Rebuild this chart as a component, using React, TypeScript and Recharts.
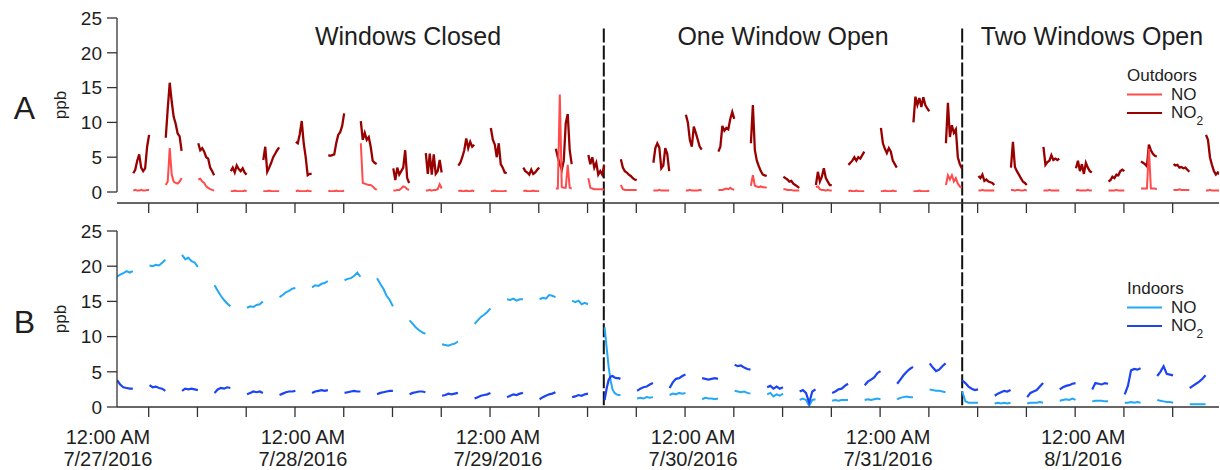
import React from 'react';
import { LineChart, Line, XAxis, YAxis, ReferenceLine, Legend } from 'recharts';

// Time is in hours after 12:00 AM 7/27/2016.
const T_MIN = 2.1;
const T_MAX = 137.7;
const WINDOW_HOURS = 1.95;

const hourTicks = [6, 12, 18, 24, 30, 36, 42, 48, 54, 60, 66, 72, 78, 84, 90, 96, 102, 108, 114, 120, 126, 132];
const dayTicks = [0, 24, 48, 72, 96, 120];
const dayLabels = ['7/27/2016', '7/28/2016', '7/29/2016', '7/30/2016', '7/31/2016', '8/1/2016'];
const ppbTicks = [0, 5, 10, 15, 20, 25];
const phaseBreaks = [62.0, 106.1];

// sampling windows: the inlet alternates between outdoor and indoor air
const outdoorStarts = [
  4.1, 8.1, 12.1, 16.1, 20.1, 24.1, 28.1, 32.1, 36.1, 40.1, 44.1, 48.1, 52.1, 56.1, 60.1, 64.1, 68.1,
  72.1, 76.1, 80.1, 84.1, 88.1, 92.1, 96.1, 100.1, 104.1, 108.1, 112.1, 116.1, 120.1, 124.1, 128.1, 132.1, 136.1,
];
const indoorStarts = [
  2.1, 6.1, 10.1, 14.1, 18.1, 22.1, 26.1, 30.1, 34.1, 38.1, 42.1, 46.1, 50.1, 54.1, 58.1, 62.1, 66.1,
  70.1, 74.1, 78.1, 82.1, 86.1, 90.1, 94.1, 98.1, 102.1, 106.1, 110.1, 114.1, 118.1, 122.1, 126.1, 130.1, 134.1,
];

const outdoorNO2 = [
  [2.7, 3.2, 4.5, 5.4, 3.5, 3.0, 3.4, 6.5, 8.2],
  [7.8, 12.0, 15.7, 13.0, 10.8, 9.8, 8.4, 8.0, 5.9],
  [7.0, 6.0, 6.3, 5.8, 5.0, 4.8, 3.5, 3.0, 2.4],
  [3.0, 3.5, 2.8, 3.8, 3.3, 3.0, 3.4, 2.8, 2.5],
  [4.6, 6.5, 2.9, 3.5, 4.2, 5.0, 5.5, 6.0, 6.4],
  [7.2, 7.0, 8.3, 10.2, 7.0, 5.0, 2.4, 2.6, 2.6],
  [5.3, 5.2, 5.3, 5.4, 7.0, 8.2, 8.6, 9.5, 11.3],
  [10.2, 7.5, 8.5, 7.5, 7.9, 6.5, 4.5, 4.2, 4.0],
  [3.4, 1.7, 3.5, 2.5, 3.0, 3.5, 6.0, 2.0, 1.3],
  [5.6, 2.6, 5.5, 2.5, 5.4, 2.6, 3.0, 4.6, 2.8],
  [3.8, 4.2, 5.0, 6.0, 7.7, 6.3, 7.2, 6.5, 6.8],
  [9.2, 7.5, 6.8, 5.0, 7.0, 4.0, 3.5, 2.8, 2.7],
  [3.5, 3.0, 2.8, 2.5, 3.2, 2.6, 2.8, 3.2, 3.5],
  [6.2, 5.0, 4.0, 3.2, 4.5, 9.9, 11.2, 6.0, 4.0],
  [5.3, 4.0, 5.0, 3.5, 4.2, 2.5, 3.0, 2.5, 3.8],
  [4.7, 3.5, 3.0, 2.8, 2.5, 2.3, 2.0, 1.8, 1.7],
  [4.2, 6.3, 7.0, 6.4, 3.4, 3.8, 6.3, 5.5, 3.0],
  [11.1, 10.0, 7.5, 6.5, 9.4, 8.5, 7.5, 6.5, 6.1],
  [5.8, 6.5, 9.5, 8.8, 9.2, 9.0, 10.5, 11.5, 10.5],
  [7.0, 12.5, 6.0, 4.5, 3.7, 3.0, 2.5, 2.4, 2.3],
  [2.2, 2.0, 1.8, 1.5, 1.6, 1.2, 1.0, 0.8, 0.6],
  [1.0, 2.9, 1.5, 2.2, 3.4, 2.0, 1.5, 1.0, 1.0],
  [3.9, 4.2, 4.5, 5.0, 4.5, 5.0, 4.8, 5.3, 5.8],
  [9.2, 7.0, 6.2, 5.6, 6.3, 5.8, 4.5, 4.0, 3.5],
  [10.0, 13.7, 12.5, 13.5, 12.2, 13.6, 12.5, 12.0, 11.6],
  [7.0, 12.8, 7.9, 9.6, 8.5, 9.0, 5.0, 4.0, 3.4],
  [2.3, 2.0, 2.5, 1.6, 1.8, 1.5, 1.4, 1.3, 1.0],
  [3.5, 7.2, 3.6, 3.0, 2.5, 2.0, 1.5, 1.3, 1.0],
  [6.5, 3.9, 4.3, 4.5, 5.3, 4.6, 4.8, 4.6, 4.8],
  [3.4, 4.5, 3.0, 4.0, 2.6, 4.2, 3.5, 3.0, 2.8],
  [1.5, 1.7, 2.2, 2.0, 2.5, 2.4, 3.0, 3.2, 3.0],
  [4.4, 4.2, 4.0, 3.7, 6.8, 6.0, 5.5, 5.2, 5.1],
  [4.0, 3.8, 3.9, 3.5, 3.6, 3.4, 3.5, 3.2, 2.9],
  [8.2, 7.5, 5.0, 3.9, 3.0, 2.5, 2.8, 2.5, 2.5],
];

const outdoorNO = [
  [0.2, 0.3, 0.2, 0.2, 0.3, 0.2, 0.2, 0.3, 0.3],
  [1.0, 1.5, 6.3, 2.5, 1.5, 1.3, 1.2, 1.5, 2.0],
  [1.8, 1.9, 1.5, 1.3, 0.8, 0.6, 0.4, 0.3, 0.2],
  [0.1, 0.1, 0.2, 0.1, 0.1, 0.1, 0.1, 0.2, 0.1],
  [0.1, 0.1, 0.1, 0.2, 0.1, 0.1, 0.1, 0.1, 0.1],
  [0.1, 0.2, 0.1, 0.1, 0.1, 0.1, 0.2, 0.1, 0.1],
  [0.2, 0.1, 0.1, 0.1, 0.2, 0.1, 0.1, 0.1, 0.2],
  [7.0, 1.3, 1.2, 1.1, 1.0, 1.0, 0.8, 0.5, 0.3],
  [0.2, 0.2, 0.3, 0.3, 0.5, 0.8, 0.7, 0.4, 0.3],
  [0.2, 0.2, 0.3, 0.2, 0.3, 0.3, 0.4, 1.1, 0.5],
  [0.1, 0.2, 0.1, 0.1, 0.2, 0.1, 0.1, 0.2, 0.1],
  [0.1, 0.1, 0.2, 0.1, 0.1, 0.1, 0.1, 0.1, 0.2],
  [0.1, 0.2, 0.1, 0.1, 0.1, 0.2, 0.1, 0.1, 0.1],
  [0.5, 0.5, 14.0, 0.7, 0.6, 0.6, 3.9, 0.6, 0.5],
  [2.0, 0.6, 0.5, 0.4, 0.4, 0.4, 0.4, 0.4, 0.3],
  [1.0, 0.4, 0.3, 0.3, 0.3, 0.3, 0.3, 0.3, 0.3],
  [0.2, 0.2, 0.2, 0.3, 0.2, 0.2, 0.2, 0.2, 0.2],
  [0.2, 0.2, 0.3, 0.2, 0.2, 0.2, 0.2, 0.3, 0.2],
  [0.3, 0.3, 0.3, 0.4, 0.5, 0.4, 0.6, 0.4, 0.3],
  [0.9, 2.4, 0.9, 0.8, 0.7, 0.8, 0.7, 0.7, 0.6],
  [0.4, 0.4, 0.3, 0.3, 0.3, 0.2, 0.2, 0.2, 0.2],
  [0.7, 0.8, 0.4, 0.3, 0.3, 0.2, 0.3, 0.2, 0.2],
  [0.1, 0.2, 0.1, 0.1, 0.2, 0.1, 0.1, 0.1, 0.1],
  [0.1, 0.1, 0.2, 0.1, 0.1, 0.1, 0.2, 0.1, 0.1],
  [0.1, 0.1, 0.1, 0.2, 0.1, 0.1, 0.1, 0.1, 0.2],
  [1.0, 2.4, 1.8, 2.4, 1.5, 2.0, 1.2, 0.8, 0.6],
  [0.2, 0.2, 0.3, 0.2, 0.2, 0.2, 0.2, 0.2, 0.2],
  [0.3, 0.3, 0.2, 0.3, 0.3, 0.2, 0.2, 0.3, 0.2],
  [0.2, 0.2, 0.2, 0.3, 0.2, 0.2, 0.2, 0.2, 0.2],
  [0.2, 0.3, 0.2, 0.2, 0.2, 0.2, 0.3, 0.2, 0.2],
  [0.2, 0.2, 0.2, 0.2, 0.3, 0.2, 0.2, 0.2, 0.2],
  [0.5, 0.5, 0.5, 0.5, 6.2, 0.5, 0.5, 0.5, 0.4],
  [0.3, 0.3, 0.3, 0.4, 0.3, 0.3, 0.3, 0.3, 0.3],
  [0.2, 0.2, 0.3, 0.2, 0.2, 0.2, 0.2, 0.2, 0.2],
];

const indoorNO = [
  [18.5, 18.8, 19.0, 19.3, 19.1, 19.3],
  [20.1, 20.0, 20.2, 20.1, 20.5, 20.9],
  [21.6, 21.0, 21.2, 20.7, 20.5, 19.9],
  [17.3, 16.5, 15.8, 15.2, 14.7, 14.3],
  [14.1, 14.3, 14.2, 14.5, 14.6, 15.0],
  [15.6, 15.9, 16.3, 16.5, 16.8, 16.9],
  [17.0, 17.3, 17.2, 17.5, 17.6, 17.9],
  [18.0, 18.2, 18.3, 18.6, 19.1, 18.5],
  [18.3, 17.5, 16.8, 15.8, 15.2, 14.3],
  [12.3, 11.8, 11.3, 10.9, 10.6, 10.4],
  [8.9, 8.8, 8.7, 8.9, 9.0, 9.3],
  [11.8, 12.3, 12.8, 13.1, 13.5, 14.0],
  [15.3, 15.2, 15.4, 15.1, 15.3, 15.3],
  [15.3, 15.5, 15.4, 15.9, 15.8, 15.6],
  [15.1, 14.9, 15.1, 14.6, 14.8, 14.6],
  [11.3, 8.5, 5.8, 3.8, 2.5, 2.0, 1.8, 1.7, 1.7],
  [1.2, 1.3, 1.2, 1.4, 1.3, 1.4],
  [1.7, 1.9, 1.8, 2.0, 1.9, 2.0],
  [1.1, 1.3, 1.2, 1.2, 1.1, 1.2],
  [2.3, 2.2, 2.1, 2.2, 2.0, 1.9],
  [1.8, 2.0, 1.5, 1.8, 1.6, 1.9],
  [1.0, 1.2, 1.0, 0.2, 1.0, 1.1],
  [0.9, 1.0, 0.9, 1.0, 1.0, 1.0],
  [1.0, 1.1, 1.0, 1.1, 1.2, 1.1],
  [1.1, 1.3, 1.4, 1.5, 1.4, 1.4],
  [2.5, 2.4, 2.3, 2.3, 2.2, 2.1],
  [2.2, 0.8, 0.6, 0.6, 0.6, 0.6],
  [0.5, 0.6, 0.5, 0.6, 0.5, 0.6],
  [0.5, 0.6, 0.6, 0.6, 0.7, 0.6],
  [0.9, 1.0, 1.1, 1.0, 1.2, 1.0],
  [0.8, 0.9, 0.9, 0.9, 0.8, 0.8],
  [0.6, 0.6, 0.7, 0.6, 0.7, 0.6],
  [1.0, 0.9, 0.8, 0.7, 0.7, 0.6],
  [0.4, 0.4, 0.4, 0.4, 0.4, 0.4],
];

const indoorNO2 = [
  [3.8, 3.2, 2.8, 2.7, 2.6, 2.6],
  [3.1, 2.8, 2.9, 2.7, 2.6, 2.3],
  [2.3, 2.6, 2.5, 2.6, 2.5, 2.4],
  [2.0, 2.5, 2.7, 2.6, 2.8, 2.7],
  [1.8, 2.0, 2.2, 2.1, 2.2, 2.0],
  [1.7, 1.9, 2.1, 2.2, 2.2, 2.3],
  [2.0, 2.2, 2.3, 2.4, 2.3, 2.4],
  [2.0, 2.1, 2.2, 2.3, 2.2, 2.2],
  [1.8, 2.0, 2.1, 2.2, 2.3, 2.3],
  [1.8, 2.0, 2.1, 2.2, 2.2, 2.1],
  [1.6, 1.7, 1.9, 1.8, 1.9, 2.0],
  [1.2, 1.4, 1.6, 1.7, 1.8, 2.0],
  [1.4, 1.6, 1.8, 1.7, 1.9, 2.0],
  [1.1, 1.4, 1.6, 1.8, 1.9, 2.1],
  [1.4, 1.5, 1.7, 1.6, 1.8, 1.9],
  [1.0, 2.6, 3.8, 4.3, 4.4, 4.2, 4.1, 4.1, 4.0],
  [2.3, 2.6, 2.8, 2.9, 3.2, 3.4],
  [2.7, 3.5, 4.0, 4.1, 4.4, 4.6],
  [4.1, 4.0, 3.9, 4.0, 4.1, 4.0],
  [6.0, 5.8, 5.9, 5.6, 5.4, 5.3],
  [2.8, 3.0, 2.6, 2.9, 2.6, 2.8],
  [2.2, 2.4, 2.0, 0.6, 2.2, 2.5],
  [2.0, 2.2, 2.5, 2.6, 3.0, 3.3],
  [3.1, 3.6, 3.9, 4.2, 4.8, 5.1],
  [3.3, 3.9, 4.5, 5.0, 5.4, 5.7],
  [6.2, 5.6, 5.1, 5.3, 5.8, 6.2],
  [3.8, 3.4, 2.9, 2.6, 2.4, 2.5],
  [1.6, 1.9, 2.1, 2.3, 2.2, 2.4],
  [1.4, 2.0, 2.2, 2.4, 2.9, 3.4],
  [2.5, 2.8, 3.0, 3.1, 3.3, 3.4],
  [2.5, 3.4, 3.3, 3.2, 3.4, 3.3],
  [1.8, 3.0, 5.2, 5.4, 5.3, 5.5],
  [4.4, 5.0, 5.8, 4.7, 4.6, 4.5],
  [2.7, 3.0, 3.3, 3.6, 4.0, 4.5],
];

const FONT = '"Liberation Sans", Arial, Helvetica, sans-serif';
const AXIS = '#333';
const TEXT = '#1e1e1e';

const colors = {
  outNO: '#ff4b4b',
  outNO2: '#990000',
  inNO: '#22a8f4',
  inNO2: '#1c44f2',
};

type Pt = { t: number; v: number | null };

// spread each window's readings over its sampling time, with a null between windows
function buildSeries(starts: number[], windows: number[][]): Pt[] {
  const pts: Pt[] = [];
  windows.forEach((vals, i) => {
    const step = WINDOW_HOURS / (vals.length - 1);
    vals.forEach((v, j) => pts.push({ t: starts[i] + j * step, v }));
    pts.push({ t: starts[i] + WINDOW_HOURS + 0.02, v: null });
  });
  return pts;
}

const outNO2Series = buildSeries(outdoorStarts, outdoorNO2);
const outNOSeries = buildSeries(outdoorStarts, outdoorNO);
const inNOSeries = buildSeries(indoorStarts, indoorNO);
const inNO2Series = buildSeries(indoorStarts, indoorNO2);

const Species = ({ name }: { name: string }) =>
  name.endsWith('2') ? (
    <>
      {name.slice(0, -1)}
      <tspan dy={7} fontSize={12}>2</tspan>
    </>
  ) : (
    <>{name}</>
  );

function LegendBox({ payload = [], title }: any) {
  const rows = [...payload].sort((a: any, b: any) => String(a.value).localeCompare(String(b.value)));
  return (
    <svg width={100} height={72} style={{ display: 'block', overflow: 'visible' }}>
      <text x={7} y={18.5} fontSize={17} fill={TEXT} fontFamily={FONT}>{title}</text>
      {rows.map((r: any, i: number) => (
        <g key={String(r.value)}>
          <line x1={7} x2={42} y1={32.5 + i * 18.5} y2={32.5 + i * 18.5} stroke={r.color} strokeWidth={2.2} />
          <text x={51} y={37.5 + i * 18.5} fontSize={17} fill={TEXT} fontFamily={FONT}>
            <Species name={String(r.value)} />
          </text>
        </g>
      ))}
    </svg>
  );
}

function PanelTag({ viewBox, letter }: any) {
  const cy = viewBox.y + viewBox.height / 2;
  return (
    <g fontFamily={FONT} fill={TEXT}>
      <text x={24.5} y={cy + 14} fontSize={32} textAnchor="middle">{letter}</text>
      <text transform={`translate(66, ${cy}) rotate(-90)`} fontSize={17} textAnchor="middle">ppb</text>
    </g>
  );
}

function DayTick({ x, y, payload }: any) {
  const label = dayLabels[dayTicks.indexOf(payload.value)];
  return (
    <text x={x + 8} y={y} textAnchor="middle" fontSize={20} fill={TEXT} fontFamily={FONT}>
      <tspan x={x + 8} dy={25}>12:00 AM</tspan>
      <tspan x={x + 8} dy={22}>{label}</tspan>
    </text>
  );
}

// tick marks only, no text
const NoLabel = () => <g />;

const yAxisProps = {
  domain: [0, 25] as [number, number],
  ticks: ppbTicks,
  interval: 0 as const,
  width: 117,
  tickSize: 10,
  tickMargin: 5,
  allowDataOverflow: true,
  tick: { fill: TEXT, fontSize: 19, fontFamily: FONT },
  axisLine: { stroke: AXIS, strokeWidth: 1.3 },
  tickLine: { stroke: AXIS, strokeWidth: 1.3 },
};

const dashProps = { stroke: '#111', strokeWidth: 2, strokeDasharray: '14 3', ifOverflow: 'visible' as const };

export default function App() {
  return (
    <div style={{ position: 'absolute', left: 0, top: 0, width: 1220, height: 470, background: '#fff', fontFamily: FONT }}>
      {/* A: outdoor air */}
      <div style={{ position: 'absolute', left: 0, top: 0 }}>
        <LineChart width={1220} height={222} margin={{ top: 18, right: 1, bottom: 0, left: 0 }}>
          <XAxis
            dataKey="t"
            type="number"
            domain={[T_MIN, T_MAX]}
            allowDataOverflow
            ticks={hourTicks}
            interval={0}
            tick={<NoLabel />}
            tickSize={10}
            height={30}
            axisLine={{ stroke: AXIS, strokeWidth: 1.3, transform: 'translate(0, 11)' }}
            tickLine={{ stroke: AXIS, strokeWidth: 1.3, transform: 'translate(0, 11)' }}
          />
          <YAxis {...yAxisProps} label={(p: any) => <PanelTag {...p} letter="A" />} />
          {phaseBreaks.map((t) => (
            <ReferenceLine key={t} segment={[{ x: t, y: 23.5 }, { x: t, y: -4.4 }]} {...dashProps} />
          ))}
          <Line data={outNO2Series} dataKey="v" name="NO2" stroke={colors.outNO2} strokeWidth={2.3} dot={false} activeDot={false} isAnimationActive={false} />
          <Line data={outNOSeries} dataKey="v" name="NO" stroke={colors.outNO} strokeWidth={2} dot={false} activeDot={false} isAnimationActive={false} />
          <Legend
            layout="horizontal"
            verticalAlign="middle"
            align="center"
            wrapperStyle={{ left: 1120, top: 62, width: 100, height: 72 }}
            content={(p: any) => <LegendBox {...p} title="Outdoors" />}
          />
        </LineChart>
      </div>

      {/* B: indoor air */}
      <div style={{ position: 'absolute', left: 0, top: 222 }}>
        <LineChart width={1220} height={248} margin={{ top: 9, right: 1, bottom: 0, left: 0 }}>
          <XAxis
            xAxisId="axisA"
            dataKey="t"
            type="number"
            domain={[T_MIN, T_MAX]}
            allowDataOverflow
            ticks={hourTicks}
            interval={0}
            tick={<NoLabel />}
            tickSize={10}
            height={12}
            axisLine={{ stroke: AXIS, strokeWidth: 1.3 }}
            tickLine={{ stroke: AXIS, strokeWidth: 1.3 }}
          />
          <XAxis
            xAxisId="axisB"
            dataKey="t"
            type="number"
            domain={[T_MIN, T_MAX]}
            allowDataOverflow
            ticks={dayTicks}
            interval={0}
            axisLine={false}
            tickLine={false}
            tickSize={0}
            tickMargin={0}
            height={51}
            tick={<DayTick />}
          />
          <YAxis {...yAxisProps} label={(p: any) => <PanelTag {...p} letter="B" />} />
          {phaseBreaks.map((t) => (
            <ReferenceLine key={t} xAxisId="axisA" segment={[{ x: t, y: 26.4 }, { x: t, y: 0 }]} {...dashProps} />
          ))}
          <Line xAxisId="axisA" data={inNOSeries} dataKey="v" name="NO" stroke={colors.inNO} strokeWidth={2} dot={false} activeDot={false} isAnimationActive={false} />
          <Line xAxisId="axisA" data={inNO2Series} dataKey="v" name="NO2" stroke={colors.inNO2} strokeWidth={2.2} dot={false} activeDot={false} isAnimationActive={false} />
          <Legend
            layout="horizontal"
            verticalAlign="middle"
            align="center"
            wrapperStyle={{ left: 1120, top: 53, width: 100, height: 72 }}
            content={(p: any) => <LegendBox {...p} title="Indoors" />}
          />
        </LineChart>
      </div>

      {/* ventilation phase titles */}
      <svg width={1220} height={60} style={{ position: 'absolute', left: 0, top: 0, pointerEvents: 'none' }}>
        <g fontFamily={FONT} fontSize={25} fill={TEXT} textAnchor="middle">
          <text x={408} y={45}>Windows Closed</text>
          <text x={783} y={45}>One Window Open</text>
          <text x={1092} y={45}>Two Windows Open</text>
        </g>
      </svg>
    </div>
  );
}
